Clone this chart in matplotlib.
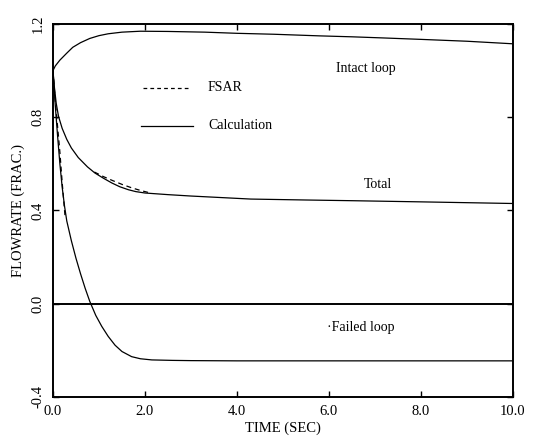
import numpy as np
import matplotlib.pyplot as plt

plt.rcParams['font.family'] = ['Liberation Serif', 'DejaVu Serif']

# Calculated flowrates (fraction of initial) vs time (s)
t_intact = [0.0, 0.05, 0.15, 0.3, 0.43, 0.6, 0.8, 1.0, 1.2, 1.5, 1.9, 2.5, 3.3, 4.0, 4.8, 5.8, 6.5, 7.2, 8.0, 9.0, 10.0]
intact = [1.0, 1.02, 1.045, 1.075, 1.10, 1.12, 1.138, 1.15, 1.158, 1.165, 1.169, 1.168, 1.165, 1.16, 1.156, 1.149, 1.145, 1.14, 1.134, 1.126, 1.115]

t_total = [0.0, 0.03, 0.07, 0.12, 0.2, 0.3, 0.4, 0.55, 0.75, 0.91, 1.1, 1.28, 1.45, 1.64, 1.8, 2.0, 2.5, 3.0, 4.3, 5.5, 6.5, 8.0, 10.0]
total = [1.0, 0.93, 0.86, 0.804, 0.752, 0.705, 0.668, 0.627, 0.587, 0.561, 0.538, 0.518, 0.502, 0.489, 0.481, 0.475, 0.468, 0.462, 0.449, 0.445, 0.442, 0.437, 0.43]

t_failed = [0.0, 0.05, 0.1, 0.15, 0.2, 0.25, 0.3, 0.4, 0.5, 0.6, 0.7, 0.8, 0.93, 1.06, 1.2, 1.35, 1.5, 1.71, 1.9, 2.15, 2.6, 3.0, 4.0, 6.0, 8.0, 10.0]
failed = [1.0, 0.85, 0.72, 0.60, 0.50, 0.42, 0.355, 0.27, 0.195, 0.128, 0.066, 0.01, -0.05, -0.097, -0.14, -0.178, -0.205, -0.227, -0.236, -0.241, -0.243, -0.244, -0.245, -0.245, -0.245, -0.245]

# FSAR results (only visible where they depart from the calculation)
t_fsar_total = [0.9, 1.1, 1.3, 1.5, 1.7, 1.9, 2.1]
fsar_total = [0.565, 0.545, 0.528, 0.512, 0.498, 0.486, 0.476]
t_fsar_failed = [0.0, 0.05, 0.1, 0.15, 0.2, 0.26]
fsar_failed = [1.0, 0.87, 0.76, 0.65, 0.52, 0.38]

fig = plt.figure(figsize=(5.33, 4.41), dpi=100)
ax = fig.add_axes([0.0994, 0.0998, 0.8631, 0.8458])

lw = 0.9
ax.plot(t_intact, intact, color='black', lw=lw)
ax.plot(t_total, total, color='black', lw=lw)
ax.plot(t_failed, failed, color='black', lw=lw)
ax.plot(t_fsar_total, fsar_total, color='black', lw=lw, ls=(0, (4, 3)))
ax.plot(t_fsar_failed, fsar_failed, color='black', lw=lw, ls=(0, (4, 3)))
ax.axhline(0.0, color='black', lw=1.4)

# legend drawn by hand
ax.plot([1.96, 3.0], [0.927, 0.927], color='black', lw=lw, ls=(0, (3, 2.5)))
ax.plot([1.92, 3.04], [0.764, 0.764], color='black', lw=lw)
ax.text(3.37, 0.927, 'FSAR', fontsize=10, va='center', ha='left')
ax.text(3.37, 0.764, 'Calculation', fontsize=10, va='center', ha='left')

ax.text(6.8, 1.01, 'Intact loop', fontsize=10, ha='center', va='center')
ax.text(7.07, 0.51, 'Total', fontsize=10, ha='center', va='center')
ax.text(6.68, -0.10, '·Failed loop', fontsize=10, ha='center', va='center')

ax.set_xlim(0, 10)
ax.set_ylim(-0.4, 1.2)
ax.set_xticks([0, 2, 4, 6, 8, 10])
ax.set_xticklabels(['0.0', '2.0', '4.0', '6.0', '8.0', '10.0'])
ax.set_yticks([-0.4, 0.0, 0.4, 0.8, 1.2])
ax.set_yticklabels(['-0.4', '0.0', '0.4', '0.8', '1.2'], rotation=90, va='center')
ax.tick_params(direction='in', length=4, width=1, top=True, right=True, labelsize=10.5, pad=6)
for s in ax.spines.values():
    s.set_linewidth(1.4)

ax.set_xlabel('TIME (SEC)', fontsize=10.5, labelpad=2)
ax.set_ylabel('FLOWRATE (FRAC.)', fontsize=10.5, labelpad=5)

fig.savefig('out.png', dpi=100)
